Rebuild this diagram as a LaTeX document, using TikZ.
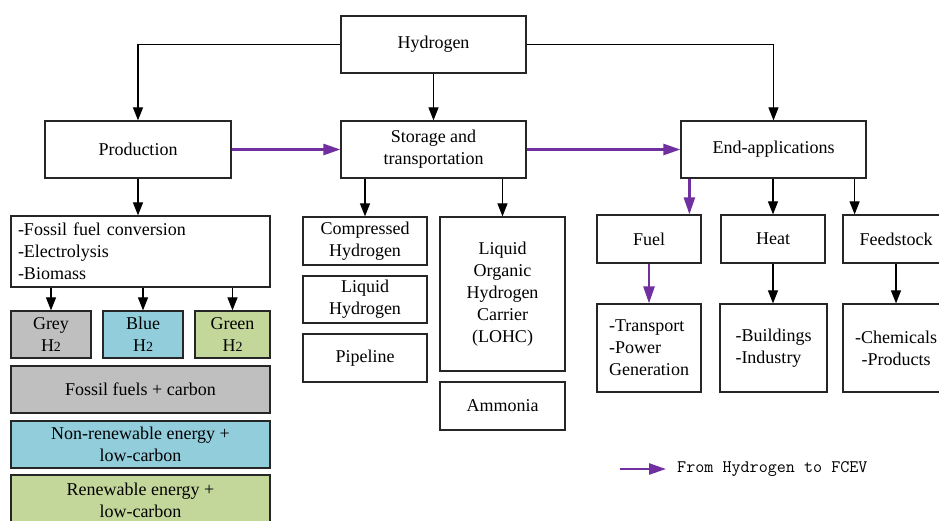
\documentclass[tikz,border=0pt]{standalone}
\usepackage{fontspec}
\setmainfont{Liberation Serif}
\usepackage{tikz}
\usetikzlibrary{arrows.meta, calc, positioning}

\definecolor{hpurple}{RGB}{112,48,160}
\definecolor{hgrey}{RGB}{191,191,191}
\definecolor{hblue}{RGB}{146,205,220}
\definecolor{hgreen}{RGB}{196,215,155}

\begin{document}
\begin{tikzpicture}[x=1pt, y=-1pt]
    \tikzstyle{format} = [draw=black!85, line width=1.2pt, inner sep=2pt,
	align=center, font=\fontsize{18}{22}\selectfont]
    \tikzstyle{arr} = [-{Triangle[length=13pt, width=10pt]}, line width=1.1pt]
    \tikzstyle{pur} = [-{Triangle[length=17pt, width=11pt]}, line width=2.5pt,
	draw=hpurple]

	\clip (0,0) rectangle (939,520);

	% top levels
	\node[format, minimum width=185pt, minimum height=57pt] (hyd) at (433.5,44.5) {Hydrogen};
	\node[format, minimum width=186pt, minimum height=57pt] (prod) at (138,149.5) {Production};
	\node[format, minimum width=185pt, minimum height=57pt] (store) at (433.5,149.5) {Storage and\\transportation};
	\node[format, minimum width=185pt, minimum height=57pt] (endapp) at (773.5,149.5) {End-applications};

	% production
	\node[format, minimum width=259pt, minimum height=71pt, text width=245pt,
		align=left] (methods) at (140.5,251.5)
		{-Fossil fuel conversion\\-Electrolysis\\-Biomass};
	\node[format, fill=hgrey, minimum width=80pt, minimum height=47pt] (grey) at (51,334.5)
		{Grey\\H{\fontsize{14}{16}\selectfont 2}};
	\node[format, fill=hblue, minimum width=80pt, minimum height=47pt] (blue) at (143,334.5)
		{Blue\\H{\fontsize{14}{16}\selectfont 2}};
	\node[format, fill=hgreen, minimum width=75pt, minimum height=47pt] (green) at (232.5,334.5)
		{Green\\H{\fontsize{14}{16}\selectfont 2}};
	\node[format, fill=hgrey, minimum width=259pt, minimum height=47pt] (fossil) at (140.5,389.5)
		{Fossil fuels + carbon};
	\node[format, fill=hblue, minimum width=259pt, minimum height=47pt] (nonren) at (140.5,444.5)
		{Non-renewable energy +\\low-carbon};
	\node[format, fill=hgreen, minimum width=259pt, minimum height=51pt] (renew) at (140.5,500.5)
		{Renewable energy +\\low-carbon};

	% storage
	\node[format, minimum width=124pt, minimum height=48pt] (comp) at (365,241) {Compressed\\Hydrogen};
	\node[format, minimum width=124pt, minimum height=47pt] (liqh) at (365,299.5) {Liquid\\Hydrogen};
	\node[format, minimum width=124pt, minimum height=48pt] (pipe) at (365,358) {Pipeline};
	\node[format, minimum width=125pt, minimum height=154pt] (lohc) at (502.5,294)
		{Liquid\\Organic\\Hydrogen\\Carrier\\(LOHC)};
	\node[format, minimum width=125pt, minimum height=48pt] (ammonia) at (502.5,406) {Ammonia};

	% end-applications
	\node[format, minimum width=104pt, minimum height=48pt] (fuel) at (649,239) {Fuel};
	\node[format, minimum width=104pt, minimum height=48pt] (heat) at (773,239) {Heat};
	\node[format, minimum width=106pt, minimum height=48pt] (feed) at (896,239) {Feedstock};
	\node[format, minimum width=104pt, minimum height=88pt, align=left] (transp) at (649,348)
		{-Transport\\-Power\\Generation};
	\node[format, minimum width=107pt, minimum height=88pt, align=left] (build) at (773.5,348)
		{-Buildings\\-Industry};
	\node[format, minimum width=106pt, minimum height=88pt] (chem) at (896,348)
		{-Chemicals\\-Products};

	% legend
	\coordinate (legs) at (620,469);
	\node[anchor=west, inner xsep=11pt, font=\ttfamily\fontsize{17.6}{20}\selectfont]
		(legtxt) at (666,469) {From Hydrogen to FCEV};

	% connectors
	\draw[arr] (hyd.west) -| (prod.north);
	\draw[arr] (hyd.east) -| (endapp.north);
	\draw[arr] (hyd.south) -- (store.north);
	\draw[arr] (prod.south) -- (prod.south |- methods.north);
	\draw[arr] (grey.north |- methods.south) -- (grey.north);
	\draw[arr] (blue.north |- methods.south) -- (blue.north);
	\draw[arr] (green.north |- methods.south) -- (green.north);
	\draw[arr] (comp.north |- store.south) -- (comp.north);
	\draw[arr] (lohc.north |- store.south) -- (lohc.north);
	\draw[arr] (heat.north |- endapp.south) -- (heat.north);
	\draw[arr] ([xshift=-12pt]endapp.south east) -- ([xshift=-12pt]endapp.south east |- feed.north);
	\draw[arr] (heat.south) -- (build.north -| heat.south);
	\draw[arr] (feed.south) -- (chem.north);

	\draw[pur] (prod.east) -- (store.west);
	\draw[pur] (store.east) -- (endapp.west);
	\draw[pur] ([xshift=9pt]endapp.south west) -- ([xshift=9pt]endapp.south west |- fuel.north);
	\draw[pur] (fuel.south) -- (transp.north);
	\draw[pur] (legs) -- (legtxt.west);
\end{tikzpicture}
\end{document}
